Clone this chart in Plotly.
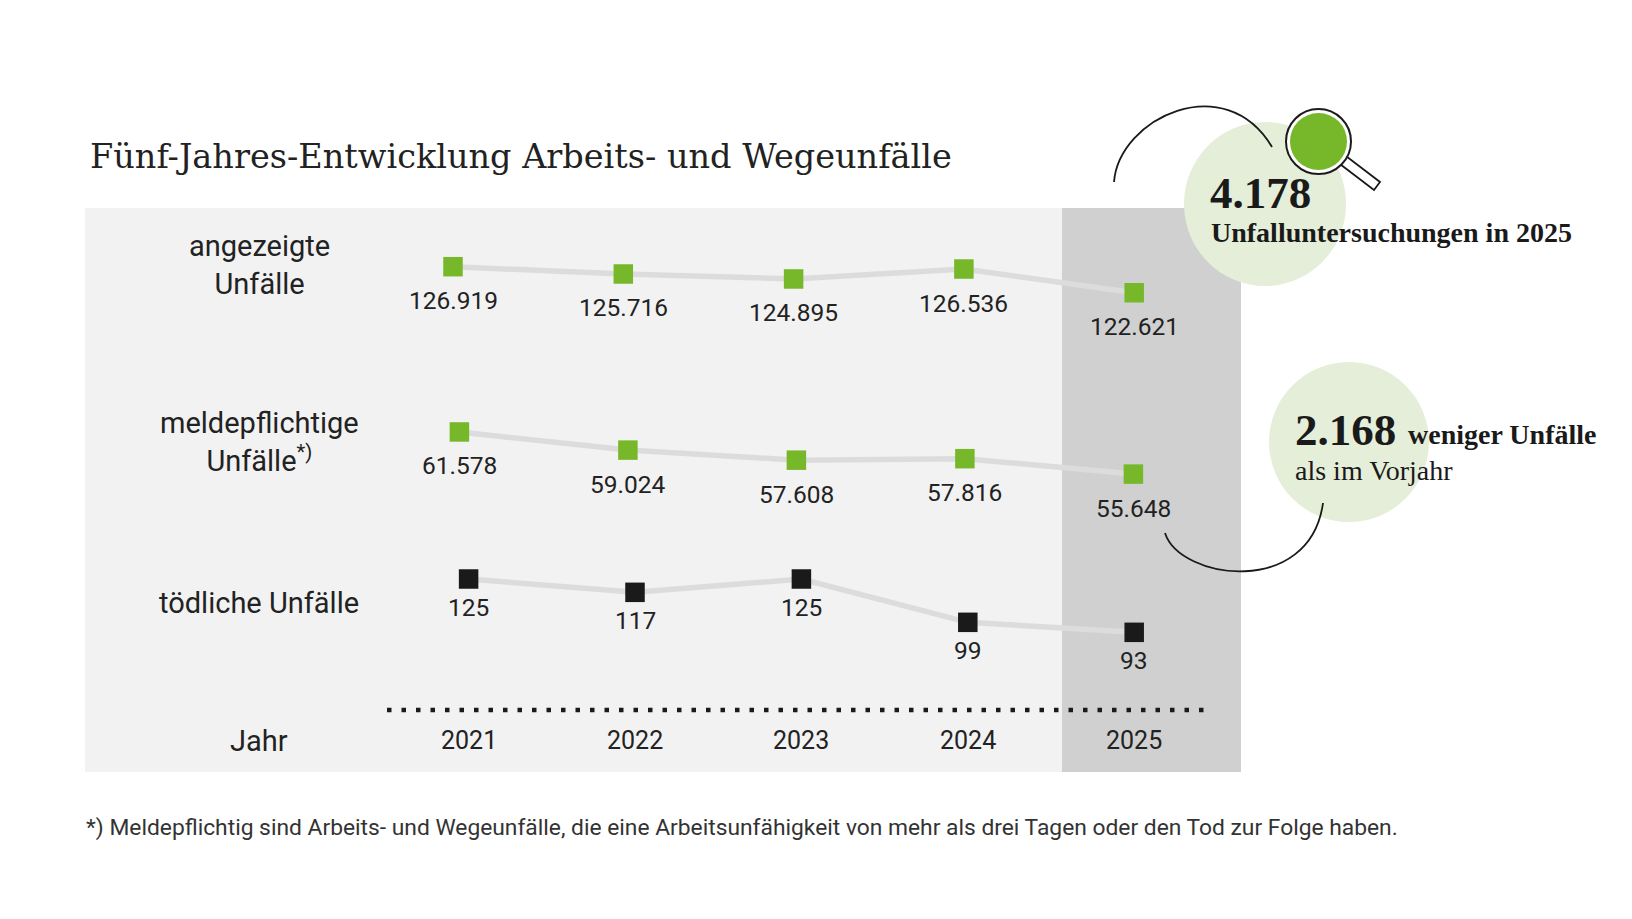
import plotly.graph_objects as go

# Daten
jahre = [2021, 2022, 2023, 2024, 2025]
angezeigte = [126919, 125716, 124895, 126536, 122621]
meldepflichtige = [61578, 59024, 57608, 57816, 55648]
toedliche = [125, 117, 125, 99, 93]

zeilen_labels = ["angezeigte<br>Unfälle", "meldepflichtige<br>Unfälle<sup>*)</sup>", "tödliche Unfälle"]
titel = "Fünf-Jahres-Entwicklung Arbeits- und Wegeunfälle"
fussnote = ("*) Meldepflichtig sind Arbeits- und Wegeunfälle, die eine Arbeitsunfähigkeit "
            "von mehr als drei Tagen oder den Tod zur Folge haben.")
untersuchungen = "4.178"
weniger = "2.168"

# Seite 1632x919, Browser-Rand 8 px -> Grafik 1616x903
OFF = 8
W, H = 1616, 903
GRUEN = "#76b82a"
SCHWARZ = "#1a1a1a"
TEXT = "#222222"
LINIE = "#dcdcdc"
HELL = "#f2f2f2"
DUNKEL = "#d0d0d0"
KREIS = "#e5eed8"
SANS = "Roboto"
SERIF = "Liberation Serif"


def px(x):
    return (x - OFF) / W


def py(y):
    return 1 - (y - OFF) / H


def xrange(px2021, px_pro_jahr):
    f = px2021 - OFF
    return [2021 - f / px_pro_jahr, 2021 + (W - f) / px_pro_jahr]


def yrange(wert, pixel, pro_px):
    f = pixel - OFF
    return [wert - (H - f) * pro_px, wert + f * pro_px]


def deutsch(v):
    return f"{v:,}".replace(",", ".")


fig = go.Figure()

# (Werte, Farbe, x-Achse, y-Achse, Abstand Beschriftung)
reihen = [
    (angezeigte, GRUEN, "x", "y", -34),
    (meldepflichtige, GRUEN, "x2", "y2", -34),
    (toedliche, SCHWARZ, "x3", "y3", -28),
]
annotations = []
for werte, farbe, xa, ya, abstand in reihen:
    fig.add_trace(go.Scatter(
        x=jahre, y=werte, xaxis=xa, yaxis=ya,
        mode="lines+markers",
        line=dict(color=LINIE, width=5.5),
        marker=dict(symbol="square", size=19.5, color=farbe),
        hoverinfo="skip",
        showlegend=False,
    ))
    for j, v in zip(jahre, werte):
        annotations.append(dict(text=deutsch(v), x=j, y=v, xref=xa, yref=ya, yshift=abstand,
                                showarrow=False, xanchor="center", yanchor="middle",
                                font=dict(family=SANS, size=24.5, color=TEXT)))

shapes = [
    # Hintergrundflaechen
    dict(type="rect", xref="paper", yref="paper", x0=px(85), x1=px(1062),
         y0=py(772), y1=py(208), fillcolor=HELL, line_width=0, layer="below"),
    dict(type="rect", xref="paper", yref="paper", x0=px(1062), x1=px(1241),
         y0=py(772), y1=py(208), fillcolor=DUNKEL, line_width=0, layer="below"),
    # gepunktete Linie
    dict(type="line", xref="paper", yref="paper", x0=px(387), x1=px(1209),
         y0=py(710), y1=py(710), line=dict(color=SCHWARZ, width=4.5, dash="4.5px,10px")),
    # hellgruene Kreise
    dict(type="circle", xref="paper", yref="paper", x0=px(1184), x1=px(1346),
         y0=py(286), y1=py(122), fillcolor=KREIS, line_width=0, layer="below"),
    dict(type="circle", xref="paper", yref="paper", x0=px(1269), x1=px(1429),
         y0=py(522), y1=py(362), fillcolor=KREIS, line_width=0, layer="below"),
]


def pfad(teile, schliessen=False):
    s = " ".join(cmd + " ".join(f"{px(a):.5f},{py(b):.5f}" for a, b in pts) for cmd, pts in teile)
    return s + (" Z" if schliessen else "")


# Boegen
shapes.append(dict(type="path", xref="paper", yref="paper",
                   path=pfad([("M", [(1114, 182)]), ("C", [(1119, 118), (1225, 68), (1272, 147)])]),
                   line=dict(color=SCHWARZ, width=1.8)))
shapes.append(dict(type="path", xref="paper", yref="paper",
                   path=pfad([("M", [(1165, 533)]), ("C", [(1180, 580), (1310, 598), (1323, 503)])]),
                   line=dict(color=SCHWARZ, width=1.8)))

# Lupe
shapes.append(dict(type="path", xref="paper", yref="paper",
                   path=pfad([("M", [(1336, 161)]), ("L", [(1342, 153)]), ("L", [(1380, 182)]),
                              ("L", [(1374, 190)])], True),
                   fillcolor="white", line=dict(color=SCHWARZ, width=1.8)))
shapes.append(dict(type="circle", xref="paper", yref="paper", x0=px(1286), x1=px(1351),
                   y0=py(174), y1=py(109), fillcolor="white", line=dict(color=SCHWARZ, width=2)))
shapes.append(dict(type="circle", xref="paper", yref="paper", x0=px(1290), x1=px(1347),
                   y0=py(170), y1=py(113), fillcolor=GRUEN, line_width=0))

texte = [
    (titel, 88, 156, "DejaVu Serif", 33.5, TEXT),
    (fussnote, 84, 827, SANS, 22.8, "#333333"),
    (f"<b>{untersuchungen}</b>", 1208, 193, SERIF, 45, SCHWARZ),
    ("<b>Unfalluntersuchungen in 2025</b>", 1209, 233, SERIF, 28, SCHWARZ),
    (f"<b>{weniger}</b>", 1293, 430, SERIF, 45, SCHWARZ),
    ("<b>weniger Unfälle</b>", 1406, 435, SERIF, 28, SCHWARZ),
    ("als im Vorjahr", 1293, 470, SERIF, 28, SCHWARZ),
]
for t, x, y, fam, size, col in texte:
    annotations.append(dict(text=t, x=px(x), y=py(y), xref="paper", yref="paper",
                            xanchor="left", yanchor="middle", showarrow=False,
                            font=dict(family=fam, size=size, color=col)))

for t, y in zip(zeilen_labels + ["Jahr"], [265, 442, 603, 741]):
    annotations.append(dict(text=t, x=px(259), y=py(y), xref="paper", yref="paper",
                            xanchor="center", yanchor="middle", showarrow=False,
                            font=dict(family=SANS, size=29, color=TEXT)))
for j in jahre:
    annotations.append(dict(text=str(j), x=j, xref="x3", y=py(740), yref="paper",
                            xanchor="center", yanchor="middle", showarrow=False,
                            font=dict(family=SANS, size=25, color=TEXT)))

xa = dict(visible=False, domain=[0, 1], fixedrange=True)
ya = dict(visible=False, domain=[0, 1], fixedrange=True)
fig.update_layout(
    width=W, height=H,
    margin=dict(l=0, r=0, t=0, b=0, pad=0),
    paper_bgcolor="white", plot_bgcolor="white",
    xaxis=dict(xa, range=xrange(453, 170.3)),
    xaxis2=dict(xa, range=xrange(459.4, 168.5), overlaying="x"),
    xaxis3=dict(xa, range=xrange(468.6, 166.4), overlaying="x"),
    yaxis=dict(ya, range=yrange(126919, 266.7, 165)),
    yaxis2=dict(ya, range=yrange(58334.8, 455, 140.7), overlaying="y"),
    yaxis3=dict(ya, range=yrange(125, 579, 0.6), overlaying="y"),
    shapes=shapes,
    annotations=annotations,
)

fig.write_html("out.html")
